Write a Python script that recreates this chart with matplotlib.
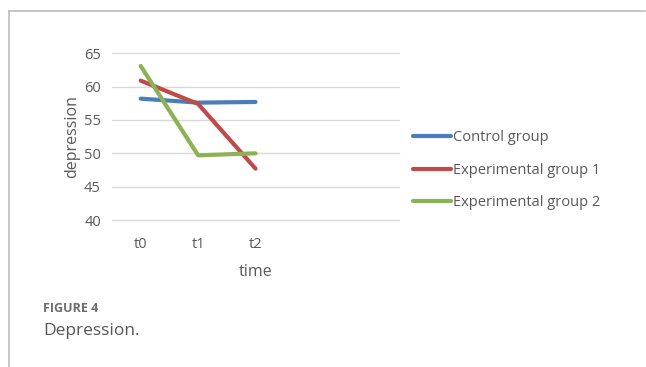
import matplotlib.pyplot as plt
from matplotlib.lines import Line2D

# Depression scores at each time point
times = ['t0', 't1', 't2']
control = [58.2, 57.6, 57.7]
exp_group1 = [60.9, 57.4, 47.7]
exp_group2 = [63.1, 49.7, 50.0]

series_names = ['Control group', 'Experimental group 1', 'Experimental group 2']
colors = ['#4a7ebb', '#be4b48', '#8cb256']
text_grey = '#595959'

plt.rcParams['font.family'] = ['Open Sans', 'DejaVu Sans']

fig = plt.figure(figsize=(6.46, 3.67), dpi=100)
ax = fig.add_axes([0.1734, 0.4005, 0.4443, 0.4543])

x = range(len(times))
for vals, name, c in zip([control, exp_group1, exp_group2], series_names, colors):
    ax.plot(x, vals, color=c, lw=3, label=name, solid_capstyle='round')

ax.set_xlim(-0.5, 4.5)
ax.set_ylim(40, 65)
ax.set_yticks(range(40, 66, 5))
ax.set_xticks(list(x))
ax.set_xticklabels(times)
ax.grid(axis='y', color='#d9d9d9', lw=1)
for gl in ax.get_ygridlines():
    gl.set_clip_on(False)
ax.set_axisbelow(True)
for s in ax.spines.values():
    s.set_visible(False)
ax.tick_params(length=0, colors=text_grey, labelsize=10.5, pad=8)
ax.tick_params(axis='x', pad=12)
ax.set_ylabel('depression', color=text_grey, fontsize=11.5, labelpad=3)
ax.set_xlabel('time', color=text_grey, fontsize=11.5, labelpad=9)

leg = fig.legend(loc='upper left', bbox_to_anchor=(0.631, 0.661), frameon=False,
                 fontsize=10.5, handlelength=2.6, handletextpad=0.1, labelspacing=1.2,
                 borderaxespad=0)
for t in leg.get_texts():
    t.set_color(text_grey)

# panel border on the left and top
fig.add_artist(Line2D([9 / 646, 9 / 646], [0, 1 - 11 / 367], transform=fig.transFigure,
                      color='#bdbdbd', lw=1.2))
fig.add_artist(Line2D([9 / 646, 0.999], [1 - 11 / 367, 1 - 11 / 367], transform=fig.transFigure,
                      color='#bdbdbd', lw=1.2))

fig.text(43 / 646, 1 - 309 / 367, 'FIGURE 4', fontsize=9, fontweight='bold',
         color='#6d6d6d', va='center')
fig.text(43 / 646, 1 - 331 / 367, 'Depression.', fontsize=12.5, color='#555555', va='center')

fig.savefig('out.png', dpi=100)
